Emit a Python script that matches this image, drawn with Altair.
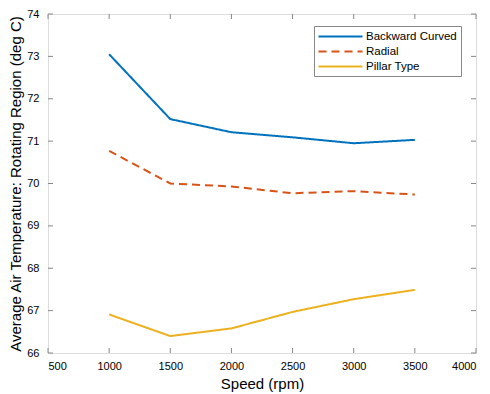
import altair as alt
import pandas as pd

speeds = [1000, 1500, 2000, 2500, 3000, 3500]
backward_curved = [73.05, 71.52, 71.21, 71.09, 70.95, 71.03]
radial = [70.77, 70.00, 69.93, 69.77, 69.82, 69.74]
pillar_type = [66.91, 66.40, 66.58, 66.97, 67.27, 67.49]
series_names = ["Backward Curved", "Radial", "Pillar Type"]
colors = ["#0072BD", "#D95319", "#EDB120"]
x_ticks = [500, 1000, 1500, 2000, 2500, 3000, 3500, 4000]
y_ticks = [66, 67, 68, 69, 70, 71, 72, 73, 74]

rows = []
for name, vals in zip(series_names, [backward_curved, radial, pillar_type]):
    for s, v in zip(speeds, vals):
        rows.append({"speed": s, "temp": v, "series": name})
df = pd.DataFrame(rows)

W, H = 428, 339
FONT = "Liberation Sans"
TXT = "#333333"
FRAME = "#888888"
TL = 5
TFS = 15

xs = alt.Scale(domain=[500, 4000], nice=False, zero=False)
ys = alt.Scale(domain=[66, 74], nice=False, zero=False)
x_axis = alt.Axis(values=x_ticks, title="Speed (rpm)", ticks=False, domain=False,
                  grid=False, labelPadding=7, titlePadding=5, format="d",
                  titleFontWeight="normal", titleFontSize=TFS, labelFontSize=11)
y_axis = alt.Axis(values=y_ticks, title="Average Air Temperature: Rotating Region (deg C)",
                  ticks=False, domain=False, grid=False, labelPadding=9, titlePadding=3,
                  titleFontWeight="normal", titleFontSize=TFS, labelFontSize=11)

leg = alt.Legend(orient="none", legendX=266, legendY=12, title=None,
                 strokeColor=FRAME, fillColor="white", padding=4,
                 symbolType="M-4,0H4", symbolSize=121, symbolStrokeWidth=2,
                 symbolOffset=16, labelFontSize=11.5, labelFont=FONT, labelColor="#000000",
                 labelOffset=19, rowPadding=3, labelLimit=200)

lines = alt.Chart(df).mark_line(strokeWidth=2).encode(
    x=alt.X("speed:Q", scale=xs, axis=x_axis),
    y=alt.Y("temp:Q", scale=ys, axis=y_axis),
    color=alt.Color("series:N", scale=alt.Scale(domain=series_names, range=colors),
                    sort=series_names, legend=leg),
    strokeDash=alt.StrokeDash("series:N", sort=series_names,
                              scale=alt.Scale(domain=series_names, range=[[1, 0], [8, 5], [1, 0]]),
                              legend=leg),
)

xt = pd.DataFrame({"v": x_ticks})
yt = pd.DataFrame({"v": y_ticks})
tick_style = dict(color=FRAME, strokeWidth=1)

bottom = alt.Chart(xt).mark_rule(**tick_style).encode(
    x=alt.X("v:Q", scale=xs, axis=x_axis), y=alt.value(H), y2=alt.value(H - TL))
top = alt.Chart(xt).mark_rule(**tick_style).encode(
    x=alt.X("v:Q", scale=xs, axis=x_axis), y=alt.value(0), y2=alt.value(TL))
left = alt.Chart(yt).mark_rule(**tick_style).encode(
    y=alt.Y("v:Q", scale=ys, axis=y_axis), x=alt.value(0), x2=alt.value(TL))
right = alt.Chart(yt).mark_rule(**tick_style).encode(
    y=alt.Y("v:Q", scale=ys, axis=y_axis), x=alt.value(W), x2=alt.value(W - TL))

chart = alt.layer(lines, bottom, top, left, right).properties(
    width=W, height=H,
    autosize=alt.AutoSizeParams(type="none"),
    padding={"left": 40, "top": 6, "right": 6, "bottom": 40},
).configure_view(stroke=FRAME, strokeWidth=1.2).configure_axis(
    labelFont=FONT, titleFont=FONT,
    labelColor=TXT, titleColor="#222222",
).configure(background="white")

chart.save("out.html", embed_options={"renderer": "svg", "actions": False})
